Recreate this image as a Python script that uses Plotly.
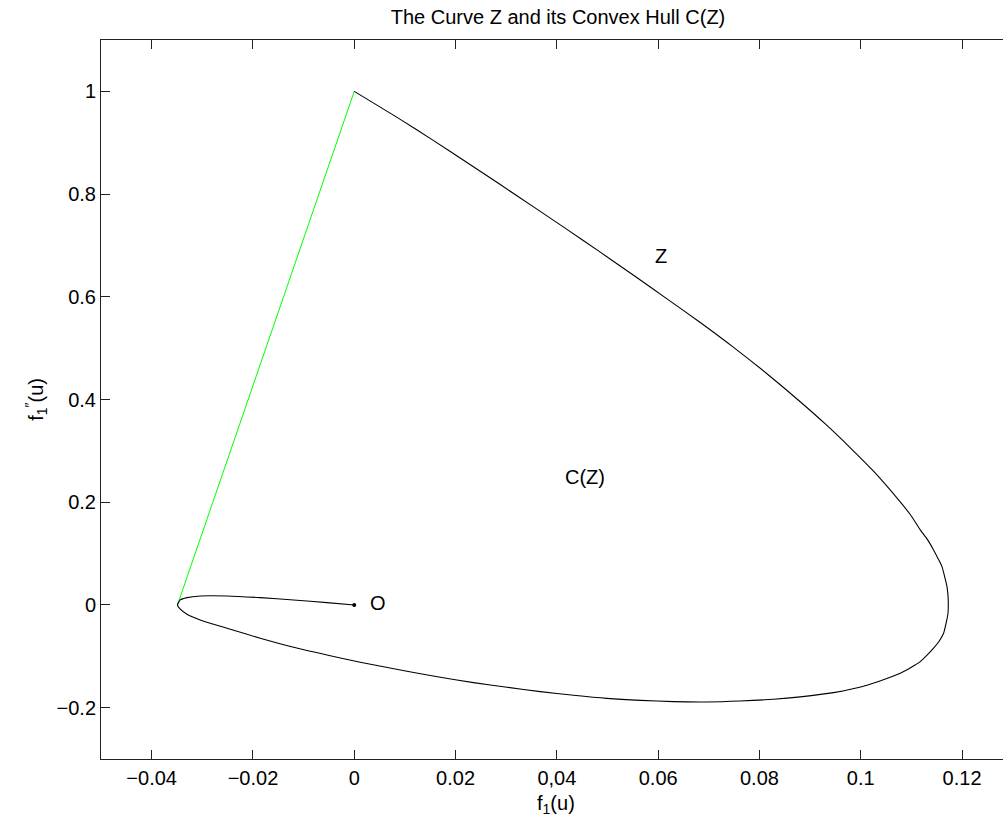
import plotly.graph_objects as go

# Curve Z (f1(u), f1''(u))
z_x = [0.0, -0.00539, -0.01198, -0.01856, -0.02513, -0.03040, -0.03303, -0.03435, -0.03490,
       -0.03435, -0.03303, -0.03040, -0.02513, -0.01856, -0.01198, -0.00539, 0.00118,
       0.01040, 0.01698, 0.02355, 0.03015, 0.03672, 0.04330, 0.04989, 0.05647, 0.06304, 0.06964,
       0.07621, 0.08278, 0.08805, 0.09463, 0.10122, 0.10780, 0.11175, 0.11313, 0.11437, 0.11550,
       0.11635, 0.11690, 0.11722, 0.11728, 0.11721, 0.11702, 0.11652, 0.11603, 0.11520, 0.11437,
       0.11321, 0.11175, 0.10977, 0.10746, 0.10270, 0.09793, 0.09300,
       0.08805, 0.08148, 0.07489, 0.06831, 0.06174, 0.05514, 0.04857, 0.04199, 0.03540, 0.02883,
       0.02225, 0.01566, 0.00908, 0.0]
z_y = [0.0, 0.0045, 0.0097, 0.0142, 0.0175, 0.0175, 0.0142, 0.0097, 0.0,
       -0.0084, -0.0181, -0.0292, -0.0454, -0.0648, -0.0824, -0.0974, -0.1115,
       -0.1290, -0.1408, -0.1513, -0.1603, -0.1688, -0.1759, -0.1819, -0.1858, -0.1883, -0.1889,
       -0.1870, -0.1836, -0.1790, -0.1708, -0.1564, -0.1330, -0.1104, -0.0974, -0.0843, -0.0701,
       -0.0551, -0.0331, -0.0162, 0.0033, 0.0195, 0.0356, 0.0565, 0.0746, 0.0915, 0.1071,
       0.1266, 0.1461, 0.1760, 0.2045, 0.2585, 0.3060, 0.3524,
       0.3957, 0.4502, 0.5016, 0.5500, 0.5960, 0.6419, 0.6869, 0.7313, 0.7751, 0.8185,
       0.8616, 0.9041, 0.9455, 1.0]

# Hull segment (green)
hull_x = [-0.03490, 0.0]
hull_y = [0.0, 1.0]

# Origin point
o_x = [0.0]
o_y = [0.0]

x_tickvals = [-0.04, -0.02, 0, 0.02, 0.04, 0.06, 0.08, 0.1, 0.12]
x_ticktext = ["\u22120.04", "\u22120.02", "0", "0.02", "0,04", "0.06", "0.08", "0.1", "0.12"]
y_tickvals = [-0.2, 0, 0.2, 0.4, 0.6, 0.8, 1]
y_ticktext = ["\u22120.2", "0", "0.2", "0.4", "0.6", "0.8", "1"]

FONT = "Liberation Sans, Arial, Helvetica, sans-serif"
FS = 20

fig = go.Figure()
fig.add_trace(go.Scatter(x=hull_x, y=hull_y, mode="lines",
                         line=dict(color="#00ff00", width=1), showlegend=False))
fig.add_trace(go.Scatter(x=z_x, y=z_y, mode="lines",
                         line=dict(color="black", width=1.1, shape="spline", smoothing=0.6),
                         showlegend=False))
fig.add_trace(go.Scatter(x=o_x, y=o_y, mode="markers",
                         marker=dict(color="black", size=4), showlegend=False))

fig.add_annotation(x=0.0605, y=0.68, text="Z", showarrow=False,
                   font=dict(size=FS, color="black", family=FONT))
fig.add_annotation(x=0.0456, y=0.249, text="C(Z)", showarrow=False,
                   font=dict(size=FS, color="black", family=FONT))
fig.add_annotation(x=0.0047, y=0.003, text="O", showarrow=False,
                   font=dict(size=FS, color="black", family=FONT))

# axis titles
fig.add_annotation(xref="paper", yref="paper", x=0.5044, y=-0.063, yanchor="middle",
                   text="f<sub>1</sub>(u)", showarrow=False,
                   font=dict(size=FS, color="black", family=FONT))
fig.add_annotation(xref="paper", yref="paper", x=-0.09, y=0.5, textangle=-90,
                   text="f<sub>1</sub><sup>\u2033</sup>(u)", showarrow=False,
                   font=dict(size=FS, color="black", family=FONT))

fig.update_layout(
    width=1003, height=818,
    margin=dict(l=101, r=0, t=40, b=59),
    paper_bgcolor="white", plot_bgcolor="white",
    font=dict(family=FONT, size=FS, color="black"),
    title=dict(text="The Curve Z and its Convex Hull C(Z)", x=558 / 1003, xanchor="center",
               y=1 - 17 / 818, yanchor="middle", yref="container",
               font=dict(size=FS, color="black", family=FONT)),
    xaxis=dict(range=[-0.05, 0.12808], tickvals=x_tickvals, ticktext=x_ticktext,
               showgrid=False, zeroline=False, showline=True, linecolor="#222", linewidth=1,
               mirror="ticks", ticks="inside", ticklen=9, tickcolor="#222", tickwidth=1,
               ticklabelstandoff=1),
    yaxis=dict(range=[-0.3, 1.1], tickvals=y_tickvals, ticktext=y_ticktext,
               showgrid=False, zeroline=False, showline=True, linecolor="#222", linewidth=1,
               mirror=False, ticks="inside", ticklen=9, tickcolor="#222", tickwidth=1),
)

fig.write_html("out.html")
